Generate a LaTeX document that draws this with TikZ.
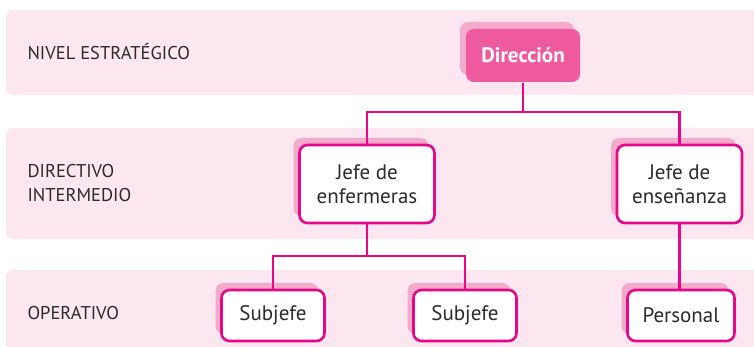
\documentclass[tikz,border=0pt]{standalone}
\usepackage{fontspec}
\setmainfont{PT Sans}
\usetikzlibrary{positioning, shadows}
\definecolor{bandpink}{HTML}{FCE6F0}
\definecolor{shadepink}{HTML}{F4AACB}
\definecolor{linkpink}{HTML}{E8068A}
\definecolor{headpink}{HTML}{EF5A9E}
\definecolor{txtgray}{HTML}{2B2B2B}
\tikzset{
  band/.style={fill=bandpink, rounded corners=7pt},
  lvl/.style={anchor=west, align=left, text=txtgray, font=\fontsize{18.5}{24}\selectfont},
  unit/.style={draw=linkpink, line width=2.6pt, fill=white, rounded corners=8pt,
    align=center, text=txtgray, font=\fontsize{21}{24}\selectfont, inner sep=0pt,
    general shadow={fill=shadepink, draw=none, shadow xshift=-6pt, shadow yshift=7pt}},
  head/.style={unit, draw=none, fill=headpink, text=white, font=\fontsize{21}{24}\selectfont\bfseries},
  link/.style={draw=linkpink, line width=2.6pt}
}
\begin{document}
\begin{tikzpicture}[x=1pt, y=-1pt]
        \useasboundingbox (0,0) rectangle (754,347);
        % Level bands
        \fill[band] (6,10) rectangle (770,95);
        \fill[band] (6,128) rectangle (770,239);
        \fill[band] (6,270) rectangle (770,360);
        % Level labels
        \node[lvl] (nivel) at (24,52) {NIVEL ESTRATÉGICO};
        \node[lvl] (direct) at (24,183) {DIRECTIVO\\INTERMEDIO};
        \node[lvl] (oper) at (24,313) {OPERATIVO};
        % Units
        \node[head, minimum width=114pt, minimum height=53pt] (dir) at (523,55.5) {Dirección};
        \node[unit, minimum width=135pt, minimum height=78pt] (enf) at (367,184) {Jefe de\\enfermeras};
        \node[unit, minimum width=125pt, minimum height=78pt] (ens) at (679.5,184) {Jefe de\\enseñanza};
        \node[unit, minimum width=103pt, minimum height=51pt] (sub1) at (273,315.5) {Subjefe};
        \node[unit, minimum width=103pt, minimum height=51pt] (sub2) at (465,315.5) {Subjefe};
        \node[unit, minimum width=107pt, minimum height=51pt] (per) at (681,315.5) {Personal};
        % Branch points
        \coordinate (top) at (523,112);
        \coordinate (mid) at (367,256);
        % Connectors
        \draw[link] (dir.south) -- (top) -| (enf.north);
        \draw[link] (top) -| (ens.north);
        \draw[link] (enf.south) -- (mid) -| (sub1.north);
        \draw[link] (mid) -| (sub2.north);
        \draw[link] (ens.south) -- (ens.south |- per.north);
\end{tikzpicture}
\end{document}
